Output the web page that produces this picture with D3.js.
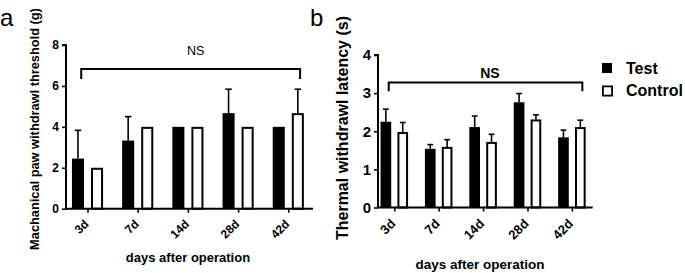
<!DOCTYPE html>
<html>
<head>
<meta charset="utf-8">
<script src="https://cdn.jsdelivr.net/npm/d3@7"></script>
<style>
  html, body { margin: 0; padding: 0; background: #fff; }
  svg { display: block; font-family: "Liberation Sans", Arial, Helvetica, sans-serif; }
</style>
</head>
<body>
<svg id="chart" width="685" height="273"></svg>
<script>
// ---------- data ----------
const categories = ["3d", "7d", "14d", "28d", "42d"];
const series = ["Test", "Control"];

// Panel a: Mechanical paw withdrawal threshold (g)
const aTestMean    = [2.45, 3.33, 4.0, 4.67, 4.0];
const aTestErr     = [1.38, 1.17, 0,   1.17, 0];
const aControlMean = [2.0,  4.0,  4.0, 4.0,  4.67];
const aControlErr  = [0,    0,    0,   0,    1.17];
const aYTicks = [0, 2, 4, 6, 8];

// Panel b: Thermal withdrawal latency (s)
const bTestMean    = [2.25, 1.54, 2.11, 2.76, 1.84];
const bTestErr     = [0.33, 0.11, 0.29, 0.23, 0.19];
const bControlMean = [1.98, 1.59, 1.72, 2.31, 2.11];
const bControlErr  = [0.25, 0.19, 0.20, 0.12, 0.18];
const bYTicks = [0, 1, 2, 3, 4];

const svg = d3.select("#chart");

function panel(cfg) {
  const g = svg.append("g");
  const y = d3.scaleLinear().domain([0, cfg.yMax]).range([cfg.y0, cfg.yTop]);
  const x = d3.scalePoint().domain(categories).range([cfg.xFirst, cfg.xLast]);
  const step = x.step();
  const xSub = d3.scaleBand().domain(series)
    .range([-0.31 * step, 0.31 * step]).paddingInner(0.368).paddingOuter(0);
  const bw = xSub.bandwidth();

  const rows = categories.map((c, i) => ({
    cat: c,
    vals: [
      { s: "Test", m: cfg.test[i], e: cfg.testErr[i] },
      { s: "Control", m: cfg.ctrl[i], e: cfg.ctrlErr[i] }
    ]
  }));

  // error bars (drawn first, bars on top)
  const eb = g.append("g").attr("stroke", "#000").attr("stroke-width", 1.6);
  rows.forEach(r => r.vals.forEach(v => {
    if (!v.e) return;
    const cx = x(r.cat) + xSub(v.s) + bw / 2;
    eb.append("line").attr("x1", cx).attr("x2", cx)
      .attr("y1", y(v.m)).attr("y2", y(v.m + v.e));
    eb.append("line").attr("x1", cx - bw * 0.27).attr("x2", cx + bw * 0.27)
      .attr("y1", y(v.m + v.e)).attr("y2", y(v.m + v.e));
  }));

  // bars
  rows.forEach(r => r.vals.forEach(v => {
    const bx = x(r.cat) + xSub(v.s);
    if (v.s === "Test") {
      g.append("rect").attr("x", bx).attr("y", y(v.m))
        .attr("width", bw).attr("height", y(0) - y(v.m)).attr("fill", "#000");
    } else {
      g.append("rect").attr("x", bx + 1).attr("y", y(v.m) + 1)
        .attr("width", bw - 2).attr("height", y(0) - y(v.m) - 1)
        .attr("fill", "#fff").attr("stroke", "#000").attr("stroke-width", 2);
    }
  }));

  // y axis
  const ya = d3.axisLeft(y).tickValues(cfg.yTicks).tickSize(4).tickPadding(3).tickFormat(d3.format("d"));
  const yg = g.append("g").attr("transform", `translate(${cfg.axisX},0)`).call(ya);
  yg.select(".domain").attr("d", `M-4,${y(cfg.yMax)}H0V${y(0)}`).attr("stroke-width", 2);
  yg.selectAll(".tick line").attr("stroke-width", 1.6);
  yg.selectAll(".tick text").attr("font-size", cfg.yTickFont).attr("font-weight", "bold").attr("fill", "#000");

  // x axis
  const xa = d3.axisBottom(x).tickSize(4).tickFormat("");
  const xg = g.append("g").attr("transform", `translate(0,${y(0)})`).call(xa);
  xg.select(".domain").attr("d", `M${cfg.axisX},0H${cfg.xEnd}`).attr("stroke-width", 2);
  xg.selectAll(".tick line").attr("stroke-width", 1.6);
  categories.forEach(c => {
    g.append("text")
      .attr("transform", `translate(${x(c) + 2},${y(0) + cfg.xLabDy}) rotate(-45)`)
      .attr("text-anchor", "end")
      .attr("font-size", cfg.xTickFont).attr("font-weight", "bold")
      .text(c);
  });

  // significance bracket
  const bx1 = x(categories[0]) - 0.125 * step;
  const bx2 = x(categories[categories.length - 1]) + 0.235 * step;
  g.append("path")
    .attr("d", `M${bx1},${y(cfg.brEnd)}V${y(cfg.brTop)}H${bx2}V${y(cfg.brEnd)}`)
    .attr("fill", "none").attr("stroke", "#000").attr("stroke-width", 2);
  g.append("text")
    .attr("x", (bx1 + bx2) / 2 + 0.1 * step).attr("y", y(cfg.nsY))
    .attr("text-anchor", "middle")
    .attr("font-size", cfg.nsFont).attr("font-weight", cfg.nsWeight)
    .text("NS");

  // axis titles
  g.append("text")
    .attr("transform", `translate(${cfg.yTitleX},${cfg.yTitleY}) rotate(-90)`)
    .attr("text-anchor", "middle").attr("font-size", cfg.yTitleFont).attr("font-weight", "bold")
    .text(cfg.yTitle);
  g.append("text")
    .attr("x", cfg.xTitleX).attr("y", cfg.xTitleY)
    .attr("text-anchor", "middle").attr("font-size", cfg.xTitleFont).attr("font-weight", "bold")
    .text("days after operation");

  // panel letter
  g.append("text").attr("x", cfg.letterX).attr("y", 26)
    .attr("font-size", 24).text(cfg.letter);
}

panel({
  letter: "a", letterX: 0,
  test: aTestMean, testErr: aTestErr, ctrl: aControlMean, ctrlErr: aControlErr,
  yMax: 8, yTicks: aYTicks, y0: 208.7, yTop: 45,
  axisX: 66, xEnd: 313, xFirst: 87.5, xLast: 288.3,
  yTickFont: 12, xTickFont: 12, xLabDy: 16,
  brTop: 6.83, brEnd: 6.34, nsY: 7.5, nsFont: 12.5, nsWeight: "normal",
  yTitle: "Machanical paw withdrawl threshold (g)", yTitleX: 39, yTitleY: 129, yTitleFont: 12.8,
  xTitleX: 188, xTitleY: 262, xTitleFont: 13
});

panel({
  letter: "b", letterX: 310,
  test: bTestMean, testErr: bTestErr, ctrl: bControlMean, ctrlErr: bControlErr,
  yMax: 4, yTicks: bYTicks, y0: 207.5, yTop: 55,
  axisX: 378, xEnd: 592.7, xFirst: 394.3, xLast: 571.9,
  yTickFont: 15, xTickFont: 13, xLabDy: 17,
  brTop: 3.28, brEnd: 3.05, nsY: 3.4, nsFont: 14, nsWeight: "bold",
  yTitle: "Thermal withdrawl latency (s)", yTitleX: 348, yTitleY: 128, yTitleFont: 16,
  xTitleX: 480, xTitleY: 269, xTitleFont: 13.5
});

// legend
const legend = svg.append("g").attr("transform", "translate(602,63)");
series.forEach((s, i) => {
  const lg = legend.append("g").attr("transform", `translate(0,${i * 22.5})`);
  if (s === "Test") {
    lg.append("rect").attr("x", 0).attr("y", 0).attr("width", 10).attr("height", 10).attr("fill", "#000");
  } else {
    lg.append("rect").attr("x", 0.9).attr("y", 0.9).attr("width", 9.2).attr("height", 9.2)
      .attr("fill", "#fff").attr("stroke", "#000").attr("stroke-width", 1.8);
  }
  lg.append("text").attr("x", 24).attr("y", 10.5)
    .attr("font-size", 16).attr("font-weight", "bold").text(s);
});
</script>
</body>
</html>
